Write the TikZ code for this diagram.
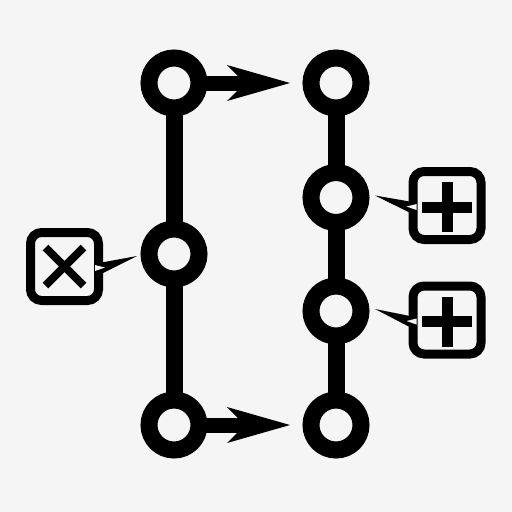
\documentclass[tikz,border=0pt]{standalone}
\usetikzlibrary{arrows.meta, calc, positioning}
\definecolor{bg}{RGB}{245,245,245}

\begin{document}
\begin{tikzpicture}
  [
    x=1pt, y=-1pt,
    ring/.style   = {draw, circle, line width=17pt, minimum size=50pt, inner sep=0pt, outer sep=0pt, fill=bg},
    rail/.style   = {line width=17pt},
    push/.style   = {line width=15pt, -{Stealth[length=63pt, width=36pt, inset=18pt, line width=0pt]}, shorten >=21pt},
    bubble/.style = {draw, rectangle, rounded corners=11pt, line width=9pt, minimum size=68pt, inner sep=0pt, fill=bg},
    cross/.style  = {line width=8pt},
    plus/.style   = {line width=11pt},
  ]

  \fill[bg] (0,0) rectangle (512,512);

  % the two columns
  \def\lx{174}
  \def\rx{336}

  \node (L1) at (\lx,83)  [ring] {};
  \node (L2) at (\lx,254) [ring] {};
  \node (L3) at (\lx,425) [ring] {};

  \node (R1) at (\rx,83)    [ring] {};
  \node (R2) at (\rx,197.5) [ring] {};
  \node (R3) at (\rx,311)   [ring] {};
  \node (R4) at (\rx,425)   [ring] {};

  \draw[rail] (L1) -- (L2);
  \draw[rail] (L2) -- (L3);
  \draw[rail] (R1) -- (R2);
  \draw[rail] (R2) -- (R3);
  \draw[rail] (R3) -- (R4);

  % moves
  \draw[push] (L1) -- (R1);
  \draw[push] (L3) -- (R4);

  % removed
  \node (xbox) at (64.5,266.5) [bubble] {};
  \coordinate (xtip) at ($(L2.center)+(-37,2)$);
  \fill ($(xbox.east)+(-4,-3.5)$) -- (xtip) -- ($(xbox.east)+(-4,8.5)$) -- cycle;
  \fill[bg] ($(xbox.east)+(-8,-1.5)$) -- ($(xbox.east)+(2,1)$) -- ($(xbox.east)+(-8,4.5)$) -- cycle;
  \draw[cross] ($(xbox.center)+(-19,-19)$) -- ($(xbox.center)+(19,19)$);
  \draw[cross] ($(xbox.center)+(-19,19)$) -- ($(xbox.center)+(19,-19)$);

  % added
  \foreach \r/\b/\y in {R2/abox/205.5, R3/bbox/320}{
    \node (\b) at (447,\y) [bubble] {};
    \coordinate (\b tip) at ($(\r.center)+(39,-2)$);
    \fill ($(\b.west)+(4,-3.5)$) -- (\b tip) -- ($(\b.west)+(4,8.5)$) -- cycle;
    \fill[bg] ($(\b.west)+(8,-1.5)$) -- ($(\b.west)+(-2,1)$) -- ($(\b.west)+(8,4.5)$) -- cycle;
    \draw[plus] ($(\b.center)+(-25,1.5)$) -- ($(\b.center)+(25,1.5)$);
    \draw[plus] ($(\b.center)+(0,-23.5)$) -- ($(\b.center)+(0,26.5)$);
  }

\end{tikzpicture}
\end{document}
